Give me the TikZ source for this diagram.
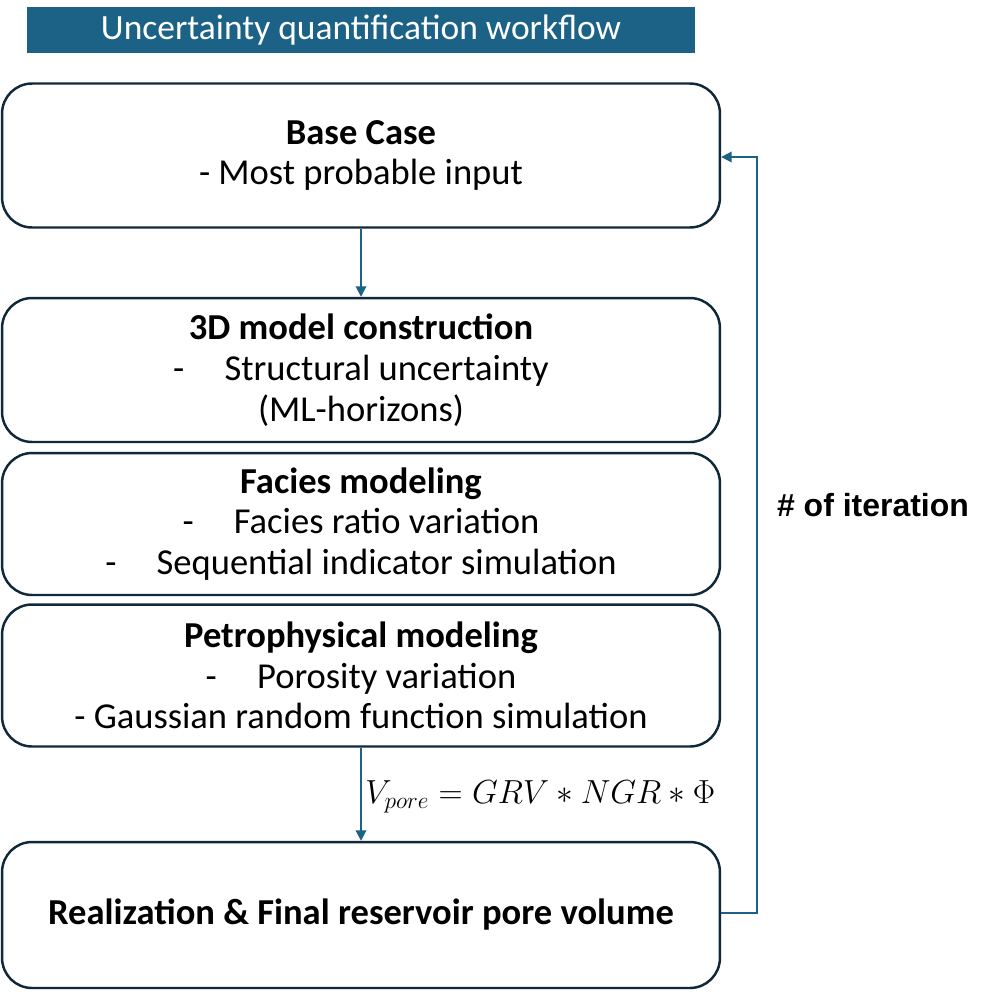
\RequirePackage{fix-cm}
\documentclass[tikz,border=0pt]{standalone}
\usepackage{fontspec}
\setmainfont{Carlito}
\newfontfamily\arialfont{Liberation Sans}
\usetikzlibrary{arrows.meta}

\definecolor{wfblue}{HTML}{1B6286}
\definecolor{wfline}{HTML}{10293A}

\begin{document}
\begin{tikzpicture}[x=0.02cm,y=-0.02cm,
    step box/.style={draw=wfline,line width=1.4pt,rounded corners=0.6cm,fill=white,
        minimum width=14.36cm,minimum height=2.88cm,align=center,inner sep=0pt,
        font=\fontsize{20.8}{23.2}\selectfont},
    flow arrow/.style={draw=wfblue,line width=1.1pt,-{Triangle[length=6pt,width=6pt]}}]
    \useasboundingbox (0,0) rectangle (993,991);
    % title
    \node[fill=wfblue,text=white,minimum width=13.36cm,minimum height=0.92cm,inner sep=0pt,
        font=\fontsize{20.2}{22}\selectfont] at (361,30) (title) {Uncertainty quantification workflow};
    % workflow steps
    \node[step box] at (361,155.5) (base) {\textbf{Base Case}\\- Most probable input};
    \node[step box] at (361,370) (model) {\textbf{3D model construction}\\-\hspace{1.1em}Structural uncertainty\\(ML-horizons)};
    \node[step box,minimum height=2.84cm] at (361,524) (facies) {\textbf{Facies modeling}\\-\hspace{1.1em}Facies ratio variation\\-\hspace{1.1em}Sequential indicator simulation};
    \node[step box,minimum height=2.84cm] at (361,675.5) (petro) {\textbf{Petrophysical modeling}\\-\hspace{1.1em}Porosity variation\\- Gaussian random function simulation};
    \node[step box,minimum height=2.92cm] at (361,915) (final) {\textbf{Realization \& Final reservoir pore volume}};
    % connectors
    \draw[flow arrow] (base) -- (model);
    \draw[flow arrow] (petro) -- node[right,font=\fontsize{19}{21}\selectfont,inner sep=2pt,yshift=-0.06cm] (eq) {$V_{pore} = GRV * NGR * \Phi$} (final);
    \coordinate (loopbot) at (757,913);
    \coordinate (looptop) at (757,157);
    \draw[flow arrow] (final.east |- loopbot) -- (loopbot) -- (looptop) -- (base.east |- looptop);
    \node[font=\arialfont\bfseries\fontsize{18.2}{22}\selectfont] at (873,505) (iter) {\# of iteration};
\end{tikzpicture}
\end{document}
